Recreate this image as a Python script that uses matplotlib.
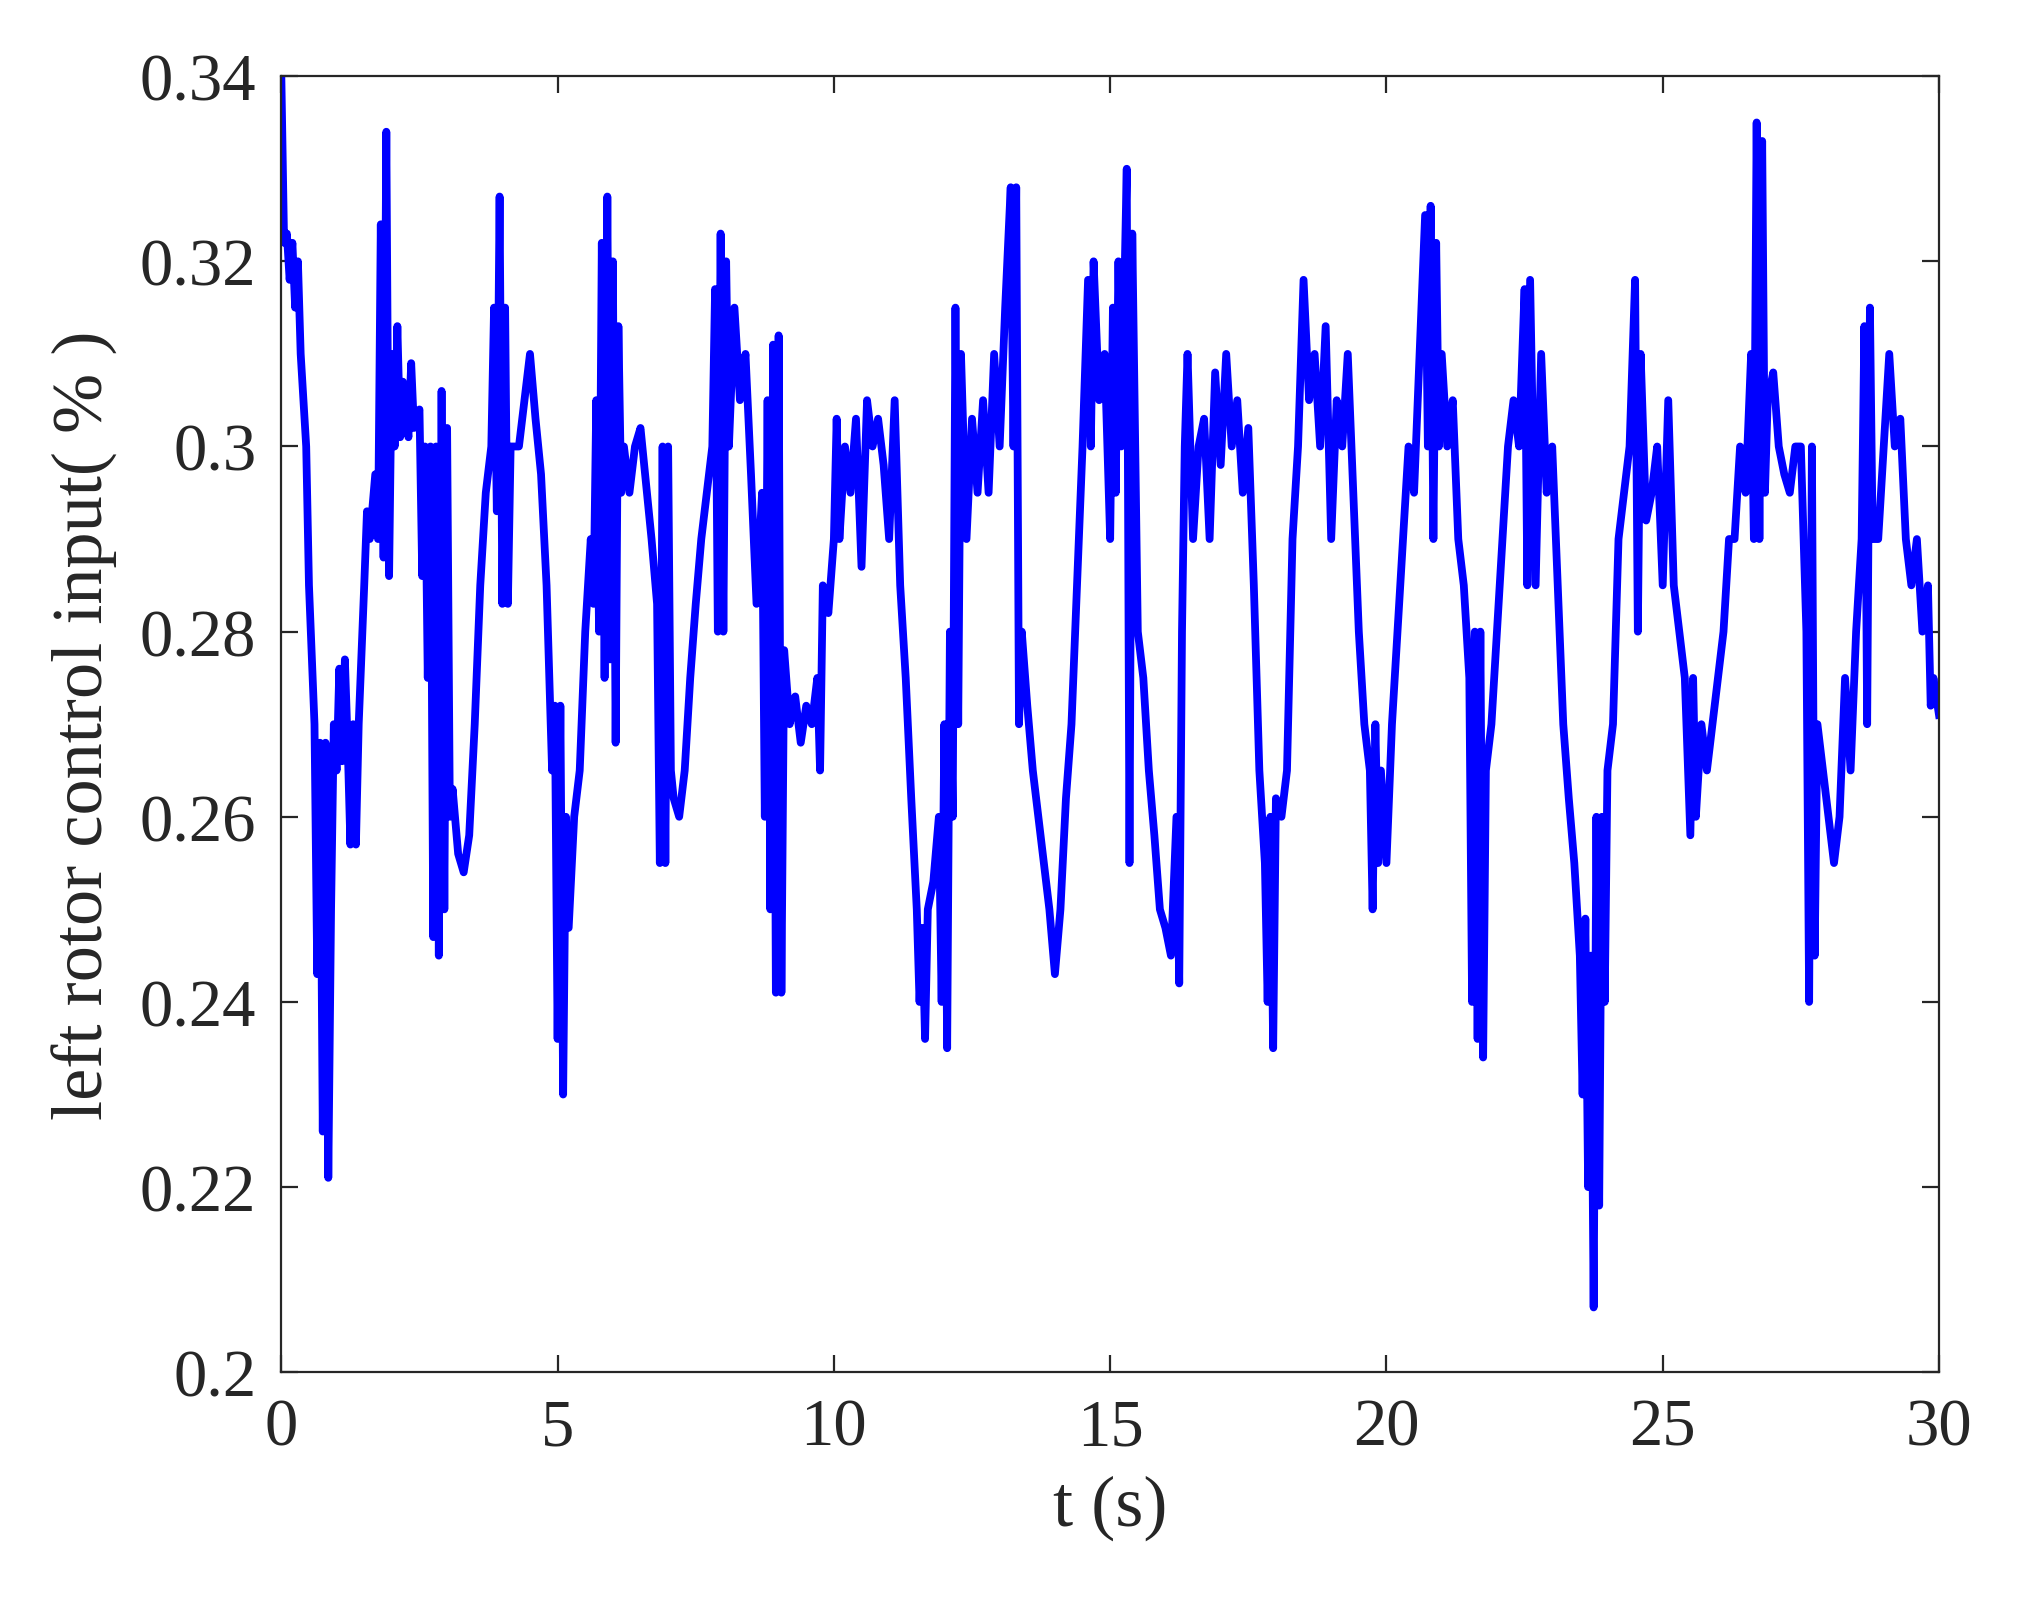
import matplotlib
matplotlib.use("Agg")
import matplotlib.pyplot as plt

pairs_t = [0,0.05,0.1,0.15,0.2,0.25,0.3,0.35,0.45,0.5,0.6,0.65,0.7,0.75,0.8,0.85,0.9,0.95,1.0,1.05,1.1,1.15,1.2,1.25,1.3,1.35,1.4,1.5,1.55,1.6,1.7,1.75,1.8,1.85,1.9,1.95,2.0,2.05,2.1,2.15,2.2,2.3,2.35,2.4,2.5,2.55,2.6,2.65,2.7,2.75,2.8,2.85,2.9,2.95,3.0,3.05,3.1,3.2,3.3,3.4,3.5,3.6,3.7,3.8,3.85,3.9,3.95,4.0,4.05,4.1,4.15,4.3,4.4,4.5,4.6,4.7,4.8,4.9,4.95,5.0,5.05,5.1,5.15,5.2,5.3,5.4,5.5,5.6,5.65,5.7,5.75,5.8,5.85,5.9,5.95,6.0,6.05,6.1,6.15,6.2,6.3,6.4,6.5,6.6,6.7,6.8,6.85,6.9,6.95,7.0,7.05,7.1,7.2,7.3,7.4,7.5,7.6,7.7,7.8,7.85,7.9,7.95,8.0,8.05,8.1,8.2,8.3,8.4,8.5,8.6,8.7,8.75,8.8,8.85,8.9,8.95,9.0,9.05,9.1,9.2,9.3,9.4,9.5,9.6,9.7,9.75,9.8,9.9,10.0,10.05,10.1,10.2,10.3,10.4,10.5,10.6,10.7,10.8,10.9,11.0,11.1,11.2,11.3,11.4,11.5,11.55,11.6,11.65,11.7,11.8,11.9,11.95,12.0,12.05,12.1,12.15,12.2,12.25,12.3,12.4,12.5,12.6,12.7,12.8,12.9,13.0,13.1,13.2,13.25,13.3,13.35,13.4,13.5,13.6,13.7,13.8,13.9,14.0,14.1,14.2,14.3,14.4,14.5,14.6,14.65,14.7,14.8,14.9,15.0,15.05,15.1,15.15,15.2,15.3,15.35,15.4,15.5,15.6,15.7,15.8,15.9,16.0,16.1,16.2,16.25,16.3,16.35,16.4,16.5,16.6,16.7,16.8,16.9,17.0,17.1,17.2,17.3,17.4,17.5,17.6,17.7,17.8,17.85,17.9,17.95,18.0,18.1,18.2,18.3,18.4,18.5,18.6,18.7,18.8,18.9,19.0,19.1,19.2,19.3,19.4,19.5,19.6,19.7,19.75,19.8,19.85,19.9,20.0,20.1,20.2,20.3,20.4,20.5,20.6,20.7,20.75,20.8,20.85,20.9,20.95,21.0,21.1,21.2,21.3,21.4,21.5,21.55,21.6,21.65,21.7,21.75,21.8,21.9,22.0,22.1,22.2,22.3,22.4,22.5,22.55,22.6,22.7,22.8,22.9,23.0,23.1,23.2,23.3,23.4,23.5,23.55,23.6,23.65,23.7,23.75,23.8,23.85,23.9,23.95,24.0,24.1,24.2,24.3,24.4,24.5,24.55,24.6,24.7,24.8,24.9,25.0,25.1,25.2,25.3,25.4,25.5,25.55,25.6,25.7,25.8,25.9,26.0,26.1,26.2,26.3,26.4,26.5,26.6,26.65,26.7,26.75,26.8,26.85,26.9,27.0,27.1,27.2,27.3,27.4,27.5,27.6,27.65,27.7,27.75,27.8,27.9,28.0,28.1,28.2,28.3,28.4,28.5,28.6,28.65,28.7,28.75,28.8,28.9,29.0,29.1,29.2,29.3,29.4,29.5,29.6,29.7,29.8,29.85,29.9,30.0]
pairs_v = [0.34,0.322,0.323,0.318,0.322,0.315,0.32,0.31,0.30,0.285,0.27,0.243,0.268,0.226,0.268,0.221,0.25,0.27,0.265,0.276,0.266,0.277,0.268,0.257,0.27,0.257,0.27,0.285,0.293,0.29,0.297,0.29,0.324,0.288,0.334,0.286,0.31,0.3,0.313,0.301,0.307,0.301,0.309,0.302,0.304,0.286,0.3,0.275,0.3,0.247,0.3,0.245,0.306,0.25,0.302,0.26,0.263,0.256,0.254,0.258,0.27,0.285,0.295,0.3,0.315,0.293,0.327,0.283,0.315,0.283,0.3,0.3,0.305,0.31,0.303,0.297,0.285,0.265,0.272,0.236,0.272,0.23,0.26,0.248,0.26,0.265,0.28,0.29,0.283,0.305,0.28,0.322,0.275,0.327,0.277,0.32,0.268,0.313,0.295,0.3,0.295,0.3,0.302,0.296,0.29,0.283,0.255,0.3,0.255,0.3,0.265,0.262,0.26,0.265,0.275,0.283,0.29,0.295,0.3,0.317,0.28,0.323,0.28,0.32,0.3,0.315,0.305,0.31,0.297,0.283,0.295,0.26,0.305,0.25,0.311,0.241,0.312,0.241,0.278,0.27,0.273,0.268,0.272,0.27,0.275,0.265,0.285,0.282,0.29,0.303,0.29,0.3,0.295,0.303,0.287,0.305,0.3,0.303,0.298,0.29,0.305,0.285,0.275,0.262,0.25,0.24,0.248,0.236,0.25,0.253,0.26,0.24,0.27,0.235,0.28,0.26,0.315,0.27,0.31,0.29,0.303,0.295,0.305,0.295,0.31,0.3,0.315,0.328,0.3,0.328,0.27,0.28,0.272,0.265,0.26,0.255,0.25,0.243,0.25,0.262,0.27,0.285,0.3,0.318,0.3,0.32,0.305,0.31,0.29,0.315,0.295,0.32,0.3,0.33,0.255,0.323,0.28,0.275,0.265,0.258,0.25,0.248,0.245,0.26,0.242,0.28,0.3,0.31,0.29,0.3,0.303,0.29,0.308,0.298,0.31,0.3,0.305,0.295,0.302,0.285,0.265,0.255,0.24,0.26,0.235,0.262,0.26,0.265,0.29,0.3,0.318,0.305,0.31,0.3,0.313,0.29,0.305,0.3,0.31,0.295,0.28,0.27,0.265,0.25,0.27,0.255,0.265,0.255,0.27,0.28,0.29,0.3,0.295,0.31,0.325,0.3,0.326,0.29,0.322,0.3,0.31,0.3,0.305,0.29,0.285,0.275,0.24,0.28,0.236,0.28,0.234,0.265,0.27,0.28,0.29,0.3,0.305,0.3,0.317,0.285,0.318,0.285,0.31,0.295,0.3,0.285,0.27,0.262,0.255,0.245,0.23,0.249,0.22,0.245,0.207,0.26,0.218,0.26,0.24,0.265,0.27,0.29,0.295,0.3,0.318,0.28,0.31,0.292,0.295,0.3,0.285,0.305,0.285,0.28,0.275,0.258,0.275,0.26,0.27,0.265,0.27,0.275,0.28,0.29,0.29,0.3,0.295,0.31,0.29,0.335,0.29,0.333,0.295,0.305,0.308,0.3,0.297,0.295,0.3,0.3,0.28,0.24,0.3,0.245,0.27,0.265,0.26,0.255,0.26,0.275,0.265,0.28,0.29,0.313,0.27,0.315,0.29,0.29,0.3,0.31,0.3,0.303,0.29,0.285,0.29,0.28,0.285,0.272,0.275,0.271]

x_ticks = [0, 5, 10, 15, 20, 25, 30]
y_ticks = [0.2, 0.22, 0.24, 0.26, 0.28, 0.3, 0.32, 0.34]
y_labels = ["0.2", "0.22", "0.24", "0.26", "0.28", "0.3", "0.32", "0.34"]

plt.rcParams['font.family'] = ['Liberation Serif', 'DejaVu Serif']
fig = plt.figure(figsize=(10.12, 8.04), dpi=200)
ax = fig.add_axes([0.139, 0.146, 0.819, 0.806])
ax.plot(pairs_t, pairs_v, color='#0000ff', lw=2.8)
ax.set_xlim(0, 30)
ax.set_ylim(0.2, 0.34)
ax.set_xticks(x_ticks)
ax.set_yticks(y_ticks)
ax.set_yticklabels(y_labels)
ax.tick_params(direction='in', top=True, right=True, labelsize=24, length=6, pad=9,
               color='#262626', labelcolor='#262626')
for s in ax.spines.values():
    s.set_color('#262626'); s.set_linewidth(0.8)
ax.set_xlabel('t (s)', fontsize=26, color='#262626', labelpad=6)
ax.set_ylabel('left rotor control input( % )', fontsize=26, color='#262626', labelpad=8)
fig.savefig('out.png', dpi=200)
